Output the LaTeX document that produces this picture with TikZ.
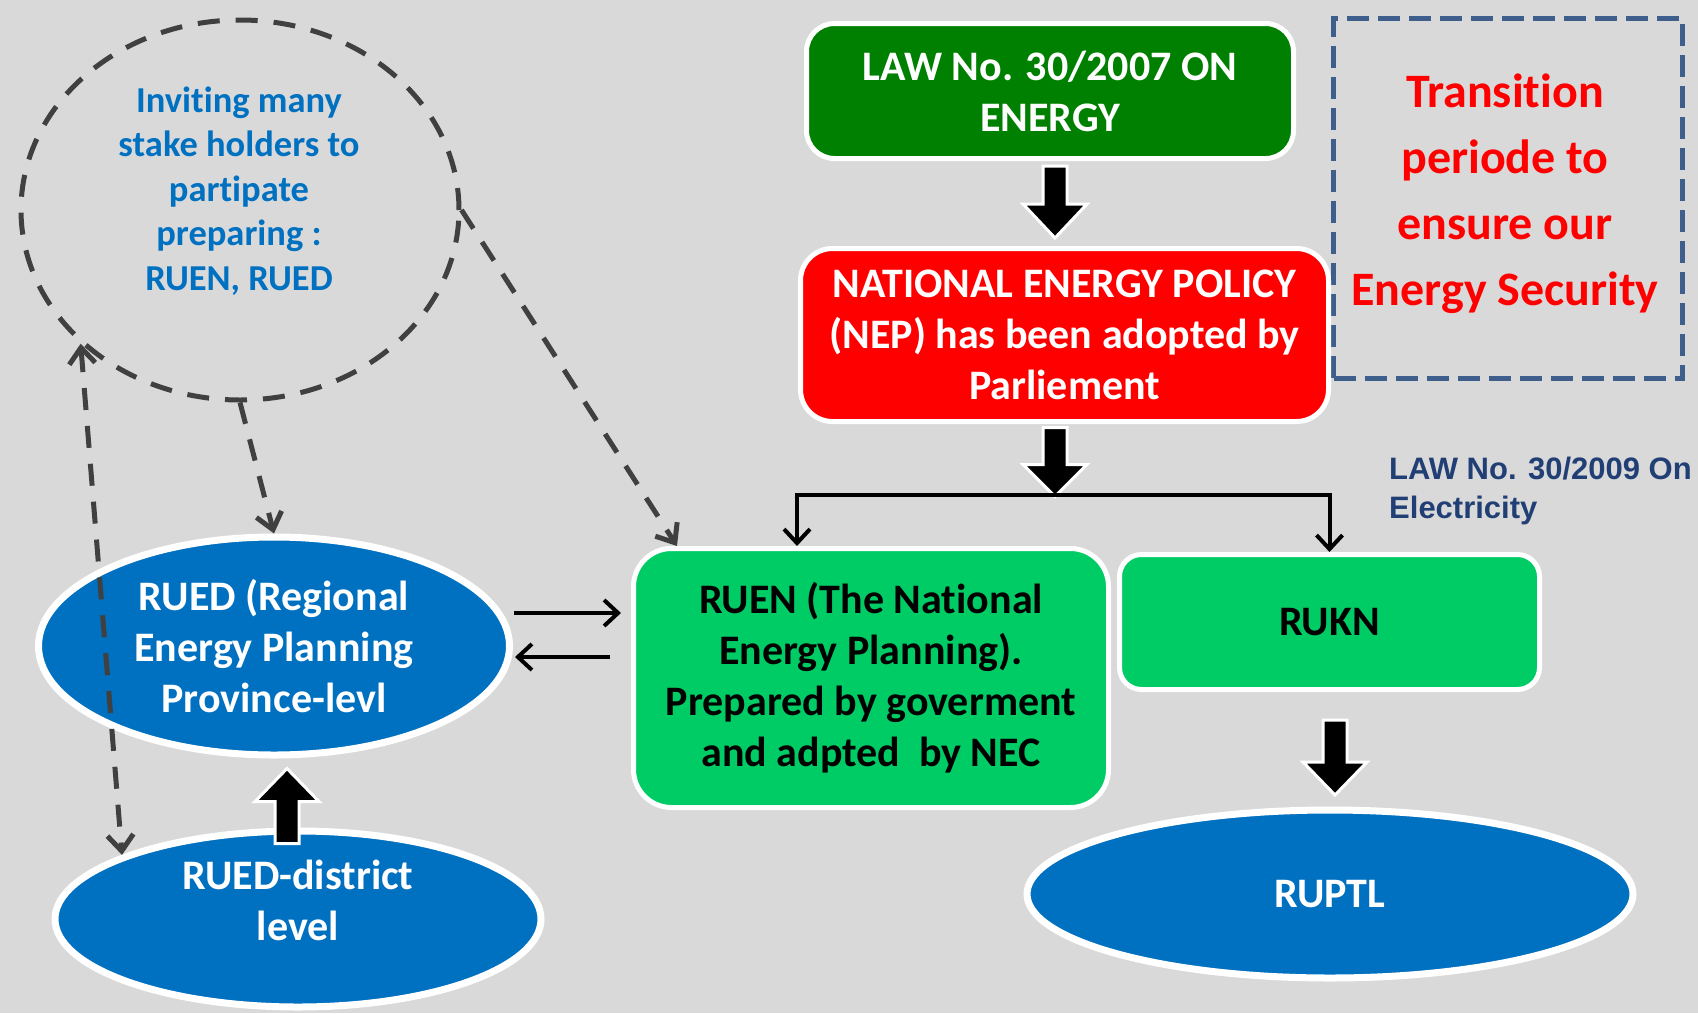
\documentclass[tikz,border=0pt]{standalone}
\usepackage{fontspec}
\setmainfont{Carlito}[Ligatures={NoCommon}]
\newfontfamily\arialfont{Liberation Sans}
\usetikzlibrary{arrows.meta,calc,shapes.geometric}
\definecolor{bg}{HTML}{D9D9D9}
\definecolor{dgreen}{HTML}{008000}
\definecolor{lgreen}{HTML}{00CC66}
\definecolor{eblue}{HTML}{0070C0}
\definecolor{dashgray}{HTML}{404040}
\definecolor{boxblue}{HTML}{3E5F8C}
\definecolor{navy}{HTML}{213F74}
\newcommand{\blockdown}[3]{\filldraw[blockarr] #1 ++(-12,0) -- ++(24,0) -- ++(0,#2) -- ++(20,0) -- ++(-32,#3) -- ++(-32,-#3) -- ++(20,0) -- cycle;}
\newcommand{\blockup}[3]{\filldraw[blockarr] #1 ++(-12,0) -- ++(24,0) -- ++(0,-#2) -- ++(20,0) -- ++(-32,-#3) -- ++(-32,#3) -- ++(20,0) -- cycle;}
\begin{document}
\begin{tikzpicture}[x=1pt,y=-1pt,
  bigfont/.style={font=\bfseries\fontsize{42}{51}\selectfont},
  box/.style={draw=white, line width=5pt, align=center, inner sep=0pt, bigfont},
  blueell/.style={ellipse, draw=white, line width=7pt, fill=eblue, inner sep=0pt, text=white, align=center, bigfont},
  wtext/.style={text=white, align=center, inner sep=0pt, bigfont},
  blockarr/.style={fill=black, draw=white, line width=3pt},
  thinarr/.style={draw=black, line width=4pt, -{Straight Barb[length=14pt,width=26pt]}},
  dasharr/.style={draw=dashgray, line width=5pt, dash pattern=on 22pt off 16pt, -{Straight Barb[length=16pt,width=26pt]}},
  dashboth/.style={draw=dashgray, line width=5pt, dash pattern=on 22pt off 16pt, {Straight Barb[length=16pt,width=26pt]}-{Straight Barb[length=16pt,width=26pt]}}
]
\useasboundingbox (0,0) rectangle (1698,1013);
\fill[bg] (0,0) rectangle (1698,1013);

% dashed circle
\node[ellipse, draw=dashgray, line width=5pt, dash pattern=on 22pt off 16pt, minimum width=438pt, minimum height=380pt, inner sep=0pt] (circ) at (240,210) {};
\node[text=eblue, align=center, inner sep=0pt, font=\bfseries\fontsize{36.5}{44.5}\selectfont] (circtext) at (239,191) {Inviting many\\stake holders to\\partipate\\preparing :\\RUEN, RUED};

% transition box
\node[draw=boxblue, line width=5pt, dash pattern=on 22pt off 9pt, minimum width=349pt, minimum height=360pt, inner sep=0pt] (trans) at (1508,198.5) {};
\node[text=red, align=center, inner sep=0pt, font=\bfseries\fontsize{48}{66}\selectfont] (transtext) at (1505,194) {Transition\\periode to\\ensure our\\Energy Security};

% boxes
\node[box, rounded corners=28pt, fill=dgreen, text=white, minimum width=487pt, minimum height=135pt] (law) at (1050,91) {LAW No. 30/2007 ON\\ENERGY};
\node[box, rounded corners=32pt, fill=red, text=white, minimum width=528pt, minimum height=173pt] (nep) at (1064.5,335) {NATIONAL ENERGY POLICY\\(NEP) has been adopted by\\Parliement};
\node[box, rounded corners=38pt, fill=lgreen, text=black, minimum width=475pt, minimum height=259pt] (ruen) at (871,678) {RUEN (The National\\Energy Planning).\\Prepared by goverment\\and adpted\ \ by NEC};
\node[box, rounded corners=22pt, fill=lgreen, text=black, minimum width=420pt, minimum height=135pt] (rukn) at (1329.5,622) {RUKN};

\node[text=navy, align=left, inner sep=0pt, anchor=north west, font=\arialfont\bfseries\fontsize{31}{39}\selectfont] (law2009) at (1389,457) {LAW No. 30/2009 On\\Electricity};

% ellipses
\node[blueell, minimum width=471pt, minimum height=218pt] (rued) at (274,646) {RUED (Regional\\Energy Planning\\Province-levl};
\node[blueell, minimum width=486pt, minimum height=176pt] (district) at (298,919) {};
\node[wtext] (disttext) at (298,900) {RUED-district\\level};
\node[blueell, minimum width=606pt, minimum height=168pt] (ruptl) at (1330,894) {RUPTL};

% block arrows
\blockdown{($(law.south)+(5,5)$)}{38}{34}
\blockdown{($(nep.south)+(-9.5,3.5)$)}{37}{32}
\blockdown{($(rukn.south)+(5.5,28)$)}{42}{33}
\blockup{($(district.north)+(-11,16)$)}{42}{33}

% bracket
\coordinate (split) at ($(nep.south)+(-9.5,70.5)$);
\coordinate (bl) at ($(split)+(-258,0)$);
\draw[thinarr] (split) -- (bl) -- (bl |- ruen.north);
\draw[thinarr] (split) -| (rukn.north);

% between RUED and RUEN
\draw[thinarr] ($(rued.east)+(1,-33)$) -- ($(ruen.west)+(-10,-65)$);
\draw[thinarr] ($(ruen.west)+(-21,-21)$) -- ($(rued.east)+(2,11)$);

% dashed arrows
\draw[dasharr] (circ.south) -- (rued.north);
\draw[dashboth] (circ.220.5) -- (district.160);
\draw[dasharr] (circ.east) -- ($(ruen.north west)+(46,0)$);
\end{tikzpicture}
\end{document}
